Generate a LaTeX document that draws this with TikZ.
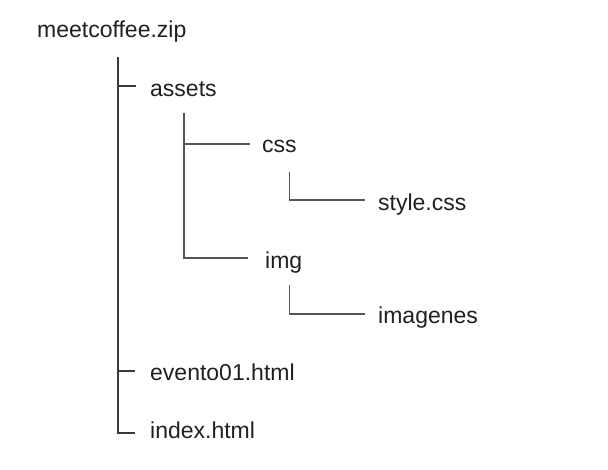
\documentclass[tikz,border=0pt]{standalone}
\usepackage{fontspec}
\setmainfont{Liberation Sans}
\definecolor{txt}{HTML}{202020}
\definecolor{ln}{HTML}{3A3A3A}
\definecolor{lnl}{HTML}{555555}
\begin{document}
\begin{tikzpicture}[x=1pt,y=-1pt,
  lbl/.style={anchor=base west,inner sep=0pt,text=txt,font=\fontsize{23}{27}\selectfont},
  main/.style={draw=ln,line width=2pt},
  sub/.style={draw=lnl,line width=1.6pt}]
\useasboundingbox[fill=white] (0,0) rectangle (608,469);
\node[lbl] (root) at (37,37) {meetcoffee.zip};
\node[lbl] (assets) at (150,96) {assets};
\node[lbl] (css) at (262,152) {css};
\node[lbl] (style) at (378,210) {style.css};
\node[lbl] (img) at (265,268) {img};
\node[lbl] (imagenes) at (378,323) {imagenes};
\node[lbl] (evento) at (150,380) {evento01.html};
\node[lbl] (index) at (150,438) {index.html};
% coordinates
\coordinate (r0) at (118,57);
\coordinate (rA) at (118,86);
\coordinate (rA2) at (136,86);
\coordinate (rE) at (118,371);
\coordinate (rE2) at (135,371);
\coordinate (rI) at (118,433);
\coordinate (rI2) at (135,433);
\coordinate (a0) at (184,113);
\coordinate (aC) at (184,144);
\coordinate (aC2) at (250,144);
\coordinate (aI) at (184,258);
\coordinate (aI2) at (248,258);
\coordinate (c0) at (289.5,172);
\coordinate (cS) at (289.5,200);
\coordinate (cS2) at (365,200);
\coordinate (i0) at (289.5,285);
\coordinate (iS) at (289.5,314);
\coordinate (iS2) at (365,314);
\draw[main] (r0) -- (rI) -- (rI2);
\draw[main] (rA) -- (rA2);
\draw[main] (rE) -- (rE2);
\draw[sub] (a0) -- (aI) -- (aI2);
\draw[sub] (aC) -- (aC2);
\draw[sub] (c0) -- (cS) -- (cS2);
\draw[sub] (i0) -- (iS) -- (iS2);
\end{tikzpicture}
\end{document}
